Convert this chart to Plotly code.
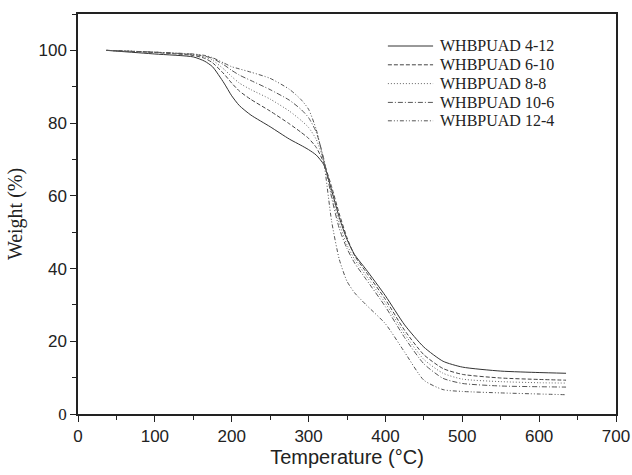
import plotly.graph_objects as go

temperature = [37, 100, 150, 165, 175, 190, 200, 210, 225, 250, 275, 290, 300, 310, 320,
               330, 340, 350, 360, 375, 400, 425, 450, 475, 500, 550, 600, 635]

names = ["WHBPUAD 4-12", "WHBPUAD 6-10", "WHBPUAD 8-8", "WHBPUAD 10-6", "WHBPUAD 12-4"]

w_4_12 = [100, 99.0, 98.2, 97.0, 95.5, 91.0, 87.5, 84.8, 82.2, 79.0, 75.6, 73.9, 72.7, 71.2, 68.5,
          61.5, 54.0, 48.0, 43.8, 39.7, 32.5, 24.5, 18.4, 14.5, 12.9, 11.8, 11.4, 11.2]
w_6_10 = [100, 99.4, 98.6, 97.8, 96.6, 93.5, 91.0, 88.8, 86.5, 83.3, 79.8, 77.5, 75.8, 73.3, 69.0,
          62.5, 55.0, 48.5, 43.5, 39.0, 31.5, 23.0, 16.3, 12.5, 10.9, 9.9, 9.5, 9.3]
w_8_8 = [100, 99.5, 98.8, 98.2, 97.3, 94.8, 92.8, 91.0, 89.2, 86.6, 83.3, 80.8, 78.8, 75.5, 69.5,
         60.5, 52.5, 46.5, 42.5, 38.0, 30.5, 22.0, 15.0, 11.2, 9.6, 8.9, 8.6, 8.5]
w_10_6 = [100, 99.5, 98.9, 98.4, 97.8, 96.0, 94.5, 93.2, 91.7, 89.2, 86.3, 83.8, 81.5, 77.5, 70.0,
          59.5, 51.0, 45.5, 41.5, 37.0, 29.5, 21.0, 13.8, 9.8, 8.4, 7.7, 7.5, 7.4]
w_12_4 = [100, 99.5, 99.0, 98.6, 98.0, 96.5, 95.5, 94.9, 94.0, 92.3, 89.3, 86.5, 83.8, 78.2, 69.0,
          53.0, 42.5, 36.5, 33.3, 30.0, 24.8, 17.0, 9.3, 6.7, 6.2, 5.8, 5.5, 5.3]

series = [w_4_12, w_6_10, w_8_8, w_10_6, w_12_4]
dashes = ["solid", "4px,2px", "1px,2px", "5px,2px,1px,2px", "4px,2px,1px,2px,1px,2px"]
colors = ["#333333", "#444444", "#666666", "#555555", "#555555"]

x_ticks = [0, 100, 200, 300, 400, 500, 600, 700]
y_ticks = [0, 20, 40, 60, 80, 100]
y_ticktext = ['<span style="font-family:Liberation Serif">0</span>', "20", "40", "60", "80", "100"]

fig = go.Figure()
for name, w, d, c in zip(names, series, dashes, colors):
    fig.add_trace(go.Scatter(x=temperature, y=w, mode="lines", name=name,
                             line=dict(color=c, width=1, dash=d, shape="spline", smoothing=0.6),
                             showlegend=False, hoverinfo="skip"))

# manual legend
row_y = [0.92, 0.873, 0.826, 0.779, 0.733]
for name, d, c, ry in zip(names, dashes, colors, row_y):
    fig.add_shape(type="line", xref="paper", yref="paper", x0=0.576, x1=0.660, y0=ry, y1=ry,
                  line=dict(color=c, width=1, dash=d))
    fig.add_annotation(xref="paper", yref="paper", x=0.669, y=ry, text=name, showarrow=False,
                       xanchor="left", yanchor="middle",
                       font=dict(family="Liberation Serif", size=16, color="#222"))

axis_common = dict(showline=True, linecolor="#222", linewidth=1.5, mirror=True,
                   ticks="outside", tickcolor="#222", ticklen=6, tickwidth=1.2,
                   showgrid=False, zeroline=False, automargin=False,
                   tickfont=dict(family="Liberation Sans", size=17, color="#222"))

fig.update_xaxes(range=[0, 700], tickvals=x_ticks,
                 minor=dict(dtick=50, ticks="outside", ticklen=4, tickcolor="#222", tickwidth=1.2),
                 title=dict(text="Temperature (°C)", font=dict(family="Liberation Sans", size=20, color="#222"),
                            standoff=5),
                 **axis_common)
fig.update_yaxes(range=[0, 110], tickvals=y_ticks, ticktext=y_ticktext,
                 minor=dict(dtick=10, ticks="outside", ticklen=4, tickcolor="#222", tickwidth=1.2),
                 title=dict(text="Weight (%)", font=dict(family="Liberation Serif", size=20, color="#222"),
                            standoff=10),
                 **axis_common)

fig.update_layout(width=632, height=475, margin=dict(l=78, r=16, t=14, b=61),
                  plot_bgcolor="white", paper_bgcolor="white", showlegend=False)

fig.write_html("out.html", config={"displayModeBar": False})
